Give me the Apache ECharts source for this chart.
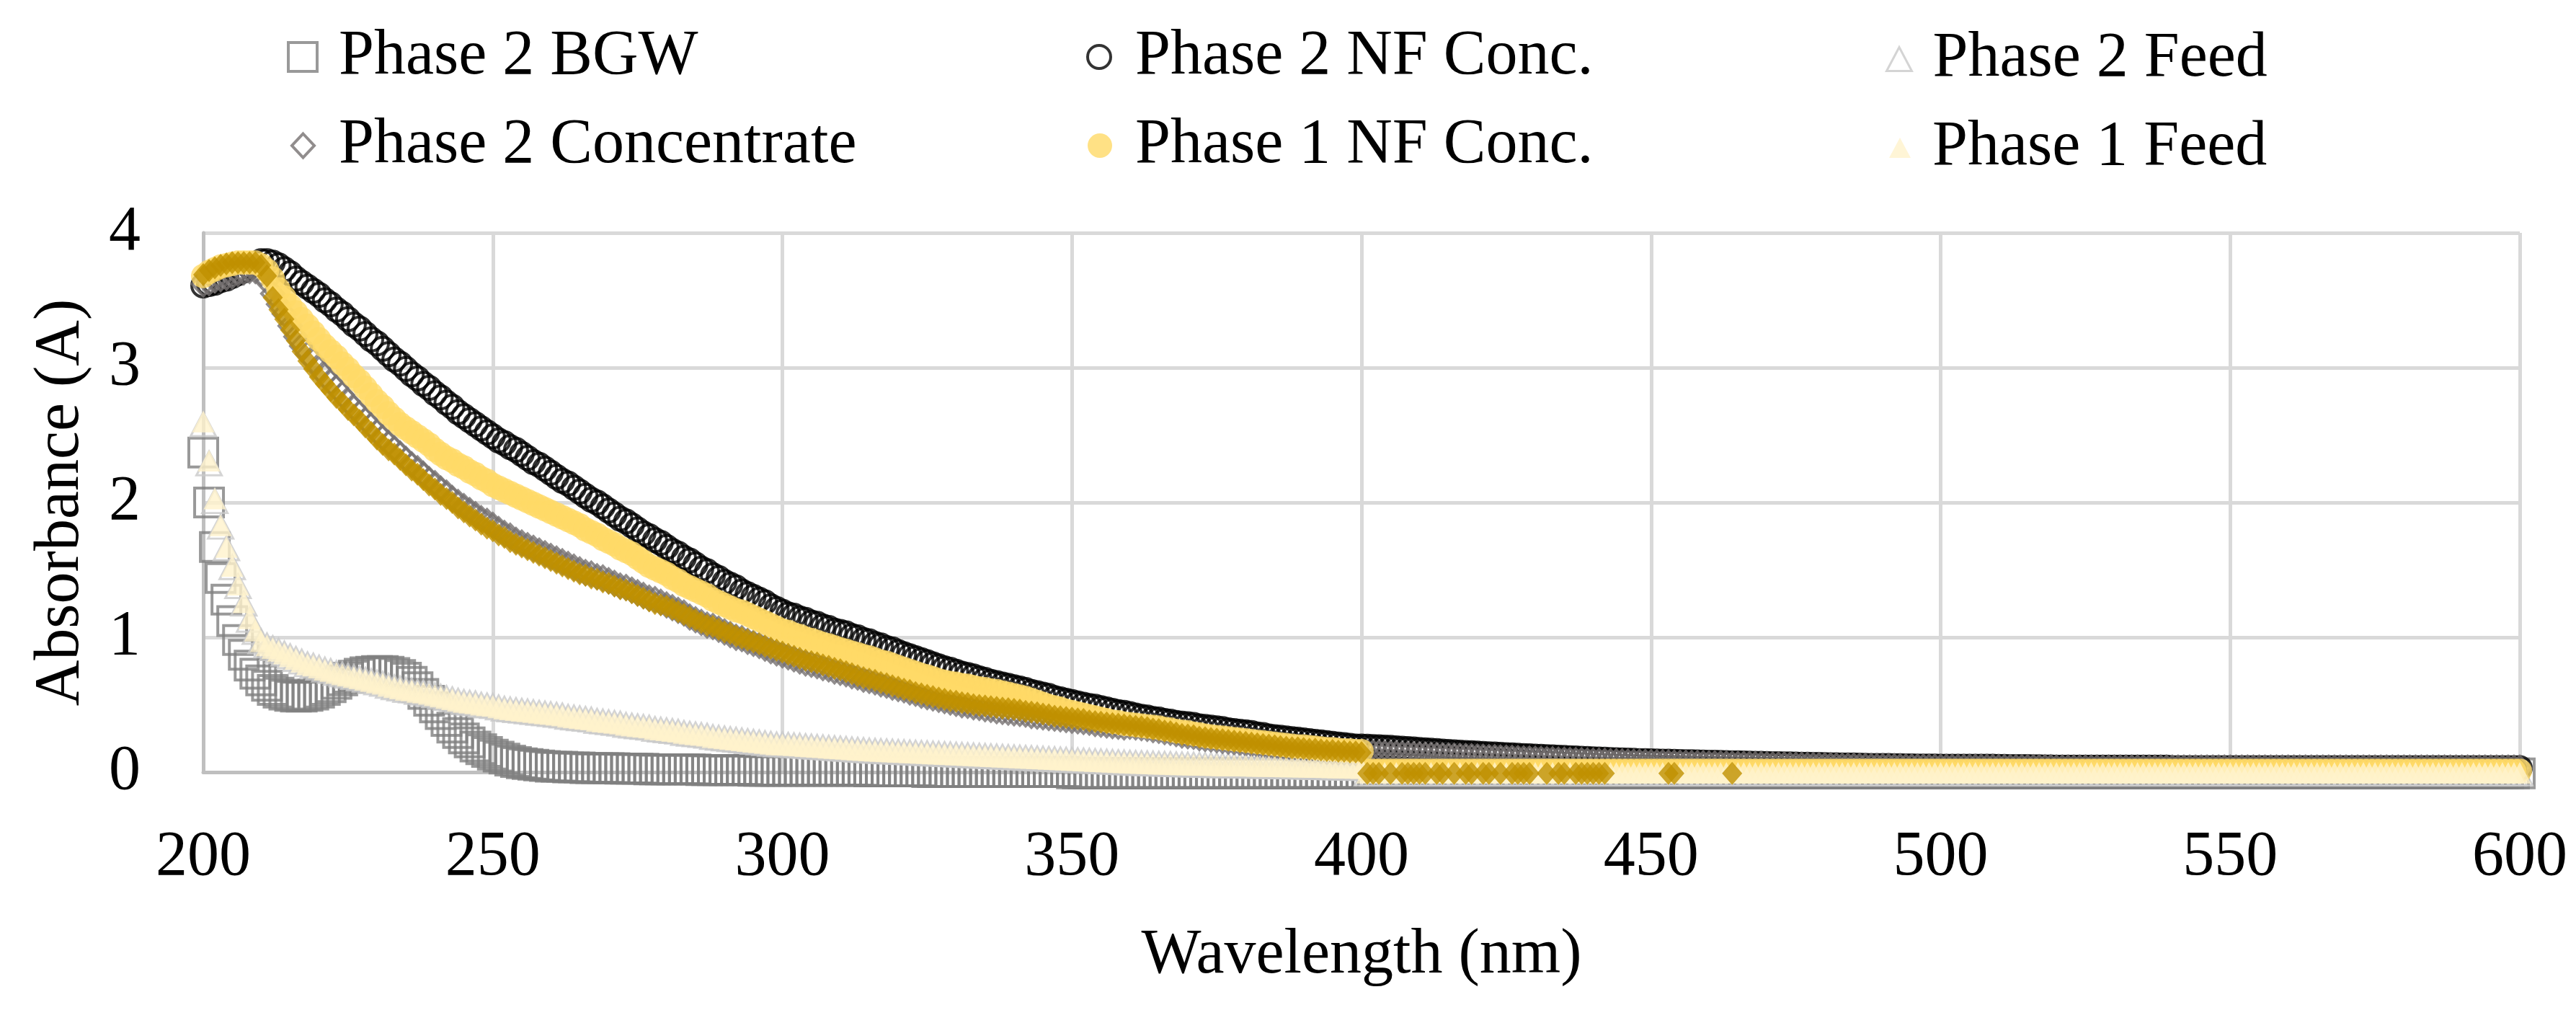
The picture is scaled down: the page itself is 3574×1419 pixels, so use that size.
<!DOCTYPE html>
<html><head><meta charset="utf-8">
<script src="https://cdn.jsdelivr.net/npm/echarts/dist/echarts.min.js"></script>
<style>html,body{margin:0;padding:0;background:#fff}#c{width:3574px;height:1419px}</style>
</head><body><div id="c"></div><script>
// wavelength of the first value in every series (1 nm step)
const startNm = 200;
const xTicks = { min: 200, max: 600, step: 50 };
const yTicks = { min: 0, max: 4, step: 1 };

// Phase 2 BGW (200..600 nm)
const p2Bgw = [
2.37,2.00,1.67,1.44,1.28,1.12,0.98,0.87,0.79,0.73,
0.68,0.64,0.61,0.59,0.575,0.565,0.56,0.56,0.565,0.575,
0.59,0.61,0.63,0.655,0.68,0.70,0.715,0.73,0.74,0.745,
0.75,0.75,0.745,0.735,0.72,0.70,0.67,0.63,0.58,0.53,
0.48,0.43,0.38,0.33,0.29,0.25,0.22,0.19,0.17,0.15,
0.13,0.115,0.10,0.085,0.075,0.065,0.06,0.055,0.05,0.045,
0.04,0.04,0.04,0.035,0.035,0.035,0.03,0.03,0.03,0.03,
0.03,0.03,0.025,0.025,0.025,0.025,0.025,0.02,0.02,0.02,
0.02,0.02,0.02,0.02,0.02,0.02,0.015,0.015,0.015,0.015,
0.015,0.015,0.015,0.015,0.015,0.01,0.01,0.01,0.01,0.01,
0.01,0.01,0.01,0.01,0.01,0.01,0.01,0.01,0.01,0.01,
0.01,0.01,0.01,0.01,0.01,0.005,0.005,0.005,0.005,0.005,
0.005,0.005,0.005,0.005,0.005,0,0,0,0,0,
0,0,0,0,0,0,0,0,0,0,
0,0,0,0,0,0,0,0,0,0,
-0.01,-0.01,-0.01,-0.01,-0.01,-0.01,-0.01,-0.01,-0.01,-0.01,
-0.01,-0.01,-0.01,-0.01,-0.01,-0.01,-0.01,-0.01,-0.01,-0.01,
-0.01,-0.01,-0.01,-0.01,-0.01,-0.01,-0.01,-0.01,-0.01,-0.01,
-0.01,-0.01,-0.01,-0.01,-0.01,-0.01,-0.01,-0.01,-0.01,-0.01,
-0.01,-0.01,-0.01,-0.01,-0.01,-0.01,-0.01,-0.01,-0.01,-0.01,
-0.01,-0.01,-0.01,-0.01,-0.01,-0.01,-0.01,-0.01,-0.01,-0.01,-0.01,-0.01,-0.01,-0.01,-0.01,-0.01,-0.01,-0.01,-0.01,-0.01,
-0.01,-0.01,-0.01,-0.01,-0.01,-0.01,-0.01,-0.01,-0.01,-0.01,-0.01,-0.01,-0.01,-0.01,-0.01,-0.01,-0.01,-0.01,-0.01,-0.01,
-0.01,-0.01,-0.01,-0.01,-0.01,-0.01,-0.01,-0.01,-0.01,-0.01,-0.01,-0.01,-0.01,-0.01,-0.01,-0.01,-0.01,-0.01,-0.01,-0.01,
-0.01,-0.01,-0.01,-0.01,-0.01,-0.01,-0.01,-0.01,-0.01,-0.01,-0.01,-0.01,-0.01,-0.01,-0.01,-0.01,-0.01,-0.01,-0.01,-0.01,
-0.01,-0.01,-0.01,-0.01,-0.01,-0.01,-0.01,-0.01,-0.01,-0.01,-0.01,-0.01,-0.01,-0.01,-0.01,-0.01,-0.01,-0.01,-0.01,-0.01,
-0.01,-0.01,-0.01,-0.01,-0.01,-0.01,-0.01,-0.01,-0.01,-0.01,-0.01,-0.01,-0.01,-0.01,-0.01,-0.01,-0.01,-0.01,-0.01,-0.01,
-0.01,-0.01,-0.01,-0.01,-0.01,-0.01,-0.01,-0.01,-0.01,-0.01,-0.01,-0.01,-0.01,-0.01,-0.01,-0.01,-0.01,-0.01,-0.01,-0.01,
-0.01,-0.01,-0.01,-0.01,-0.01,-0.01,-0.01,-0.01,-0.01,-0.01,-0.01,-0.01,-0.01,-0.01,-0.01,-0.01,-0.01,-0.01,-0.01,-0.01,
-0.01,-0.01,-0.01,-0.01,-0.01,-0.01,-0.01,-0.01,-0.01,-0.01,-0.01,-0.01,-0.01,-0.01,-0.01,-0.01,-0.01,-0.01,-0.01,-0.01,
-0.01,-0.01,-0.01,-0.01,-0.01,-0.01,-0.01,-0.01,-0.01,-0.01,-0.01,-0.01,-0.01,-0.01,-0.01,-0.01,-0.01,-0.01,-0.01,-0.01,
-0.01];

// Phase 2 NF Conc. (200..600 nm)
const p2NfConc = [
3.61,3.62,3.63,3.65,3.66,3.68,3.70,3.72,3.75,3.77,
3.79,3.79,3.78,3.76,3.73,3.70,3.66,3.63,3.60,3.57,
3.54,3.50,3.47,3.43,3.40,3.36,3.32,3.29,3.25,3.21,
3.18,3.14,3.10,3.06,3.03,2.99,2.95,2.92,2.88,2.85,
2.81,2.78,2.74,2.71,2.67,2.64,2.61,2.58,2.55,2.52,
2.49,2.46,2.44,2.41,2.39,2.36,2.33,2.30,2.28,2.25,
2.22,2.19,2.16,2.14,2.11,2.08,2.05,2.02,2.00,1.97,
1.94,1.91,1.88,1.86,1.83,1.80,1.77,1.75,1.72,1.70,
1.67,1.64,1.62,1.59,1.57,1.54,1.51,1.49,1.46,1.44,
1.41,1.39,1.37,1.34,1.32,1.30,1.28,1.26,1.23,1.21,
1.19,1.17,1.16,1.14,1.13,1.11,1.10,1.08,1.07,1.05,
1.04,1.03,1.01,1.00,0.98,0.97,0.95,0.94,0.92,0.91,
0.89,0.875,0.86,0.845,0.83,0.815,0.80,0.785,0.77,0.76,
0.745,0.73,0.72,0.71,0.695,0.685,0.67,0.66,0.65,0.64,
0.63,0.62,0.61,0.595,0.585,0.575,0.565,0.55,0.54,0.53,
0.52,0.51,0.50,0.49,0.485,0.475,0.465,0.455,0.445,0.44,
0.43,0.42,0.41,0.405,0.395,0.39,0.38,0.375,0.365,0.36,
0.355,0.35,0.34,0.335,0.33,0.325,0.32,0.31,0.305,0.30,
0.295,0.29,0.28,0.275,0.265,0.26,0.255,0.25,0.245,0.24,
0.235,0.23,0.225,0.22,0.215,0.21,0.205,0.20,0.195,0.19,
0.19,0.188,0.186,0.184,0.182,0.18,0.177,0.174,0.171,0.168,
0.165,0.162,0.159,0.156,0.153,0.15,0.147,0.145,0.142,0.14,
0.138,0.135,0.133,0.131,0.128,0.126,0.124,0.121,0.119,0.117,
0.115,0.113,0.111,0.109,0.107,0.105,0.103,0.101,0.099,0.097,
0.095,0.093,0.092,0.09,0.088,0.087,0.085,0.084,0.082,0.081,
0.08,0.079,0.078,0.077,0.076,0.075,0.074,0.073,0.072,0.071,
0.07,0.069,0.068,0.067,0.066,0.065,0.064,0.063,0.062,0.061,
0.06,0.059,0.059,0.058,0.057,0.056,0.055,0.055,0.054,0.053,
0.052,0.051,0.051,0.05,0.049,0.049,0.048,0.047,0.046,0.045,
0.045,0.045,0.044,0.044,0.043,0.043,0.042,0.042,0.041,0.041,
0.04,0.04,0.04,0.04,0.04,0.04,0.04,0.04,0.04,0.04,
0.039,0.039,0.038,0.038,0.037,0.037,0.036,0.036,0.035,0.035,
0.033,0.033,0.033,0.033,0.033,0.033,0.033,0.033,0.033,0.033,
0.033,0.033,0.033,0.033,0.033,0.033,0.033,0.033,0.033,0.033,
0.03,0.03,0.03,0.03,0.03,0.03,0.03,0.03,0.03,0.03,
0.03,0.03,0.03,0.03,0.03,0.03,0.03,0.03,0.03,0.03,
0.03,0.03,0.03,0.03,0.03,0.03,0.03,0.03,0.03,0.03,
0.03,0.03,0.03,0.03,0.03,0.03,0.03,0.03,0.03,0.03,
0.03,0.03,0.03,0.03,0.03,0.03,0.03,0.03,0.03,0.03,
0.03,0.03,0.03,0.03,0.03,0.03,0.03,0.03,0.03,0.03,
0.03];

// Phase 2 Feed (200..600 nm)
const p2Feed = [
2.58,2.29,2.01,1.82,1.66,1.52,1.38,1.25,1.13,1.04,
0.97,0.94,0.92,0.90,0.88,0.86,0.84,0.82,0.80,0.79,
0.775,0.76,0.75,0.735,0.725,0.715,0.705,0.695,0.685,0.675,
0.665,0.655,0.64,0.63,0.62,0.61,0.605,0.595,0.59,0.58,
0.57,0.56,0.55,0.54,0.53,0.52,0.515,0.51,0.50,0.495,
0.49,0.48,0.47,0.465,0.46,0.455,0.45,0.445,0.44,0.435,
0.43,0.425,0.42,0.41,0.405,0.40,0.395,0.39,0.38,0.375,
0.37,0.365,0.36,0.35,0.345,0.34,0.335,0.33,0.32,0.315,
0.31,0.305,0.30,0.29,0.285,0.28,0.275,0.27,0.26,0.255,
0.25,0.245,0.24,0.235,0.23,0.225,0.22,0.215,0.21,0.205,
0.205,0.202,0.199,0.196,0.193,0.19,0.187,0.184,0.181,0.178,
0.175,0.172,0.169,0.166,0.163,0.16,0.158,0.156,0.154,0.152,
0.15,0.148,0.146,0.144,0.142,0.14,0.138,0.136,0.134,0.132,
0.13,0.128,0.126,0.124,0.122,0.12,0.118,0.116,0.114,0.112,
0.11,0.108,0.106,0.104,0.102,0.10,0.098,0.096,0.094,0.092,
0.09,0.088,0.086,0.084,0.082,0.08,0.078,0.076,0.074,0.072,
0.07,0.068,0.067,0.065,0.064,0.062,0.061,0.06,0.058,0.057,
0.056,0.055,0.054,0.053,0.052,0.051,0.05,0.05,0.049,0.048,
0.048,0.047,0.046,0.045,0.045,0.044,0.043,0.042,0.042,0.041,
0.04,0.039,0.038,0.037,0.036,0.035,0.034,0.033,0.032,0.031,
0.03,-0.01,-0.01,-0.01,-0.01,-0.01,-0.01,-0.01,-0.01,-0.01,
-0.01,-0.01,-0.01,-0.01,-0.01,-0.01,-0.01,-0.01,-0.01,-0.01,-0.01,-0.01,-0.01,-0.01,-0.01,-0.01,-0.01,-0.01,-0.01,-0.01,
-0.01,-0.01,-0.01,-0.01,-0.01,-0.01,-0.01,-0.01,-0.01,-0.01,-0.01,-0.01,-0.01,-0.01,-0.01,-0.01,-0.01,-0.01,-0.01,-0.01,
-0.01,-0.01,-0.01,-0.01,-0.01,-0.01,-0.01,-0.01,-0.01,-0.01,-0.01,-0.01,-0.01,-0.01,-0.01,-0.01,-0.01,-0.01,-0.01,-0.01,
-0.01,-0.01,-0.01,-0.01,-0.01,-0.01,-0.01,-0.01,-0.01,-0.01,-0.01,-0.01,-0.01,-0.01,-0.01,-0.01,-0.01,-0.01,-0.01,-0.01,
-0.01,-0.01,-0.01,-0.01,-0.01,-0.01,-0.01,-0.01,-0.01,-0.01,-0.01,-0.01,-0.01,-0.01,-0.01,-0.01,-0.01,-0.01,-0.01,-0.01,
-0.01,-0.01,-0.01,-0.01,-0.01,-0.01,-0.01,-0.01,-0.01,-0.01,-0.01,-0.01,-0.01,-0.01,-0.01,-0.01,-0.01,-0.01,-0.01,-0.01,
-0.01,-0.01,-0.01,-0.01,-0.01,-0.01,-0.01,-0.01,-0.01,-0.01,-0.01,-0.01,-0.01,-0.01,-0.01,-0.01,-0.01,-0.01,-0.01,-0.01,
-0.01,-0.01,-0.01,-0.01,-0.01,-0.01,-0.01,-0.01,-0.01,-0.01,-0.01,-0.01,-0.01,-0.01,-0.01,-0.01,-0.01,-0.01,-0.01,-0.01,
-0.01,-0.01,-0.01,-0.01,-0.01,-0.01,-0.01,-0.01,-0.01,-0.01,-0.01,-0.01,-0.01,-0.01,-0.01,-0.01,-0.01,-0.01,-0.01,-0.01,
-0.01,-0.01,-0.01,-0.01,-0.01,-0.01,-0.01,-0.01,-0.01,-0.01,
-0.01];

// Phase 2 Concentrate (200..600 nm)
const p2Conc = [
3.62,3.63,3.65,3.66,3.67,3.68,3.70,3.71,3.72,3.72,
3.70,3.64,3.55,3.47,3.40,3.31,3.23,3.16,3.10,3.05,
2.99,2.94,2.89,2.85,2.80,2.75,2.70,2.66,2.61,2.57,
2.52,2.48,2.44,2.40,2.36,2.32,2.28,2.25,2.21,2.17,
2.14,2.10,2.07,2.03,2.00,1.97,1.94,1.91,1.88,1.86,
1.83,1.80,1.77,1.75,1.72,1.70,1.68,1.66,1.64,1.62,
1.60,1.58,1.56,1.54,1.52,1.50,1.48,1.47,1.45,1.44,
1.42,1.40,1.38,1.37,1.35,1.33,1.31,1.29,1.28,1.26,
1.24,1.22,1.20,1.18,1.15,1.13,1.11,1.09,1.08,1.06,
1.04,1.02,1.00,0.99,0.97,0.955,0.94,0.92,0.90,0.885,
0.87,0.855,0.84,0.825,0.81,0.80,0.79,0.775,0.765,0.75,
0.74,0.73,0.715,0.705,0.69,0.68,0.67,0.655,0.645,0.63,
0.62,0.61,0.595,0.585,0.57,0.56,0.55,0.54,0.53,0.52,
0.51,0.50,0.495,0.485,0.48,0.47,0.465,0.455,0.45,0.445,
0.44,0.435,0.43,0.42,0.415,0.41,0.405,0.40,0.395,0.39,
0.385,0.38,0.375,0.37,0.36,0.355,0.35,0.345,0.34,0.335,
0.34,0.335,0.33,0.325,0.315,0.31,0.30,0.295,0.285,0.275,
0.27,0.265,0.255,0.25,0.245,0.24,0.235,0.23,0.225,0.22,
0.215,0.21,0.205,0.20,0.195,0.19,0.185,0.18,0.175,0.175,
0.17,0.165,0.165,0.16,0.155,0.155,0.15,0.15,0.145,0.145,
0.145,0.143,0.141,0.139,0.137,0.135,0.134,0.132,0.131,0.129,
0.128,0.126,0.125,0.123,0.121,0.12,0.118,0.117,0.115,0.114,
0.112,0.11,0.108,0.107,0.105,0.103,0.102,0.10,0.098,0.097,
0.095,0.094,0.092,0.091,0.089,0.088,0.086,0.085,0.084,0.082,
0.081,0.08,0.079,0.077,0.076,0.075,0.074,0.073,0.072,0.071,
0.07,0.069,0.068,0.067,0.066,0.065,0.064,0.063,0.063,0.062,
0.061,0.06,0.06,0.059,0.058,0.057,0.057,0.056,0.055,0.055,
0.054,0.053,0.053,0.052,0.051,0.05,0.05,0.049,0.049,0.048,
0.047,0.047,0.046,0.045,0.045,0.044,0.043,0.042,0.041,0.04,
0.04,0.04,0.039,0.039,0.038,0.038,0.037,0.037,0.036,0.036,
0.035,0.035,0.035,0.035,0.035,0.035,0.035,0.035,0.035,0.035,
0.033,0.033,0.033,0.033,0.033,0.033,0.033,0.033,0.033,0.033,
0.03,0.03,0.03,0.03,0.03,0.03,0.03,0.03,0.03,0.03,
0.03,0.03,0.03,0.03,0.03,0.03,0.03,0.03,0.03,0.03,
0.03,0.03,0.03,0.03,0.03,0.03,0.03,0.03,0.03,0.03,
0.03,0.03,0.03,0.03,0.03,0.03,0.03,0.03,0.03,0.03,
0.03,0.03,0.03,0.03,0.03,0.03,0.03,0.03,0.03,0.03,
0.03,0.03,0.03,0.03,0.03,0.03,0.03,0.03,0.03,0.03,
0.03,0.03,0.03,0.03,0.03,0.03,0.03,0.03,0.03,0.03,
0.03,0.03,0.03,0.03,0.03,0.03,0.03,0.03,0.03,0.03,
0.03];

// Phase 1 NF Conc. (200..600 nm)
const p1NfConc = [
3.68,3.71,3.73,3.75,3.76,3.77,3.78,3.78,3.78,3.78,
3.76,3.72,3.66,3.58,3.52,3.46,3.41,3.36,3.31,3.26,
3.21,3.16,3.12,3.08,3.03,2.99,2.94,2.90,2.85,2.80,
2.75,2.71,2.66,2.62,2.58,2.55,2.52,2.49,2.46,2.43,
2.39,2.36,2.33,2.31,2.28,2.26,2.23,2.21,2.18,2.16,
2.13,2.11,2.09,2.07,2.05,2.03,2.01,1.99,1.97,1.95,
1.93,1.91,1.89,1.87,1.85,1.83,1.80,1.78,1.76,1.73,
1.71,1.69,1.66,1.64,1.62,1.59,1.56,1.53,1.51,1.49,
1.47,1.44,1.42,1.39,1.37,1.35,1.33,1.31,1.28,1.26,
1.24,1.22,1.20,1.19,1.17,1.15,1.13,1.11,1.09,1.07,
1.05,1.04,1.02,1.01,0.99,0.98,0.965,0.95,0.94,0.925,
0.91,0.90,0.885,0.875,0.86,0.85,0.835,0.82,0.81,0.795,
0.78,0.765,0.75,0.735,0.72,0.71,0.695,0.68,0.67,0.66,
0.655,0.645,0.64,0.63,0.62,0.615,0.605,0.60,0.59,0.58,
0.57,0.56,0.55,0.535,0.52,0.505,0.49,0.48,0.47,0.455,
0.445,0.435,0.425,0.415,0.405,0.395,0.385,0.375,0.37,0.36,
0.355,0.35,0.345,0.34,0.335,0.33,0.32,0.315,0.305,0.30,
0.295,0.285,0.28,0.27,0.265,0.26,0.255,0.25,0.245,0.24,
0.235,0.23,0.225,0.22,0.215,0.21,0.205,0.20,0.195,0.19,
0.19,0.185,0.18,0.175,0.17,0.17,0.165,0.16,0.16,0.155,
0.155,0.01,0.01,0.01,0.01,0.01,0.01,0.01,0.01,0.01,
0.01,0.01,0.01,0.01,0.01,0.01,0.01,0.01,0.01,0.01,0.01,0.01,0.01,0.01,0.01,0.01,0.01,0.01,0.01,0.01,
0.01,0.01,0.01,0.01,0.01,0.01,0.01,0.01,0.01,0.01,0.01,0.01,0.01,0.01,0.01,0.01,0.01,0.01,0.01,0.01,
0.01,0.01,0.01,0.01,0.01,0.01,0.01,0.01,0.01,0.01,0.01,0.01,0.01,0.01,0.01,0.01,0.01,0.01,0.01,0.01,
0.01,0.01,0.01,0.01,0.01,0.01,0.01,0.01,0.01,0.01,0.01,0.01,0.01,0.01,0.01,0.01,0.01,0.01,0.01,0.01,
0.01,0.01,0.01,0.01,0.01,0.01,0.01,0.01,0.01,0.01,0.01,0.01,0.01,0.01,0.01,0.01,0.01,0.01,0.01,0.01,
0.01,0.01,0.01,0.01,0.01,0.01,0.01,0.01,0.01,0.01,0.01,0.01,0.01,0.01,0.01,0.01,0.01,0.01,0.01,0.01,
0.01,0.01,0.01,0.01,0.01,0.01,0.01,0.01,0.01,0.01,0.01,0.01,0.01,0.01,0.01,0.01,0.01,0.01,0.01,0.01,
0.01,0.01,0.01,0.01,0.01,0.01,0.01,0.01,0.01,0.01,0.01,0.01,0.01,0.01,0.01,0.01,0.01,0.01,0.01,0.01,
0.01,0.01,0.01,0.01,0.01,0.01,0.01,0.01,0.01,0.01,0.01,0.01,0.01,0.01,0.01,0.01,0.01,0.01,0.01,0.01,
0.01,0.01,0.01,0.01,0.01,0.01,0.01,0.01,0.01,0.01,
0.01];

// Phase 1 Feed (200..600 nm)
const p1Feed = [
2.60,2.31,2.03,1.83,1.67,1.53,1.39,1.26,1.14,1.05,
0.97,0.94,0.92,0.90,0.88,0.86,0.84,0.82,0.80,0.79,
0.775,0.76,0.75,0.735,0.725,0.715,0.705,0.695,0.685,0.675,
0.665,0.655,0.64,0.63,0.62,0.61,0.605,0.595,0.59,0.58,
0.57,0.56,0.55,0.54,0.53,0.52,0.515,0.51,0.50,0.495,
0.49,0.48,0.47,0.465,0.46,0.455,0.45,0.445,0.44,0.435,
0.43,0.425,0.42,0.41,0.405,0.40,0.395,0.39,0.38,0.375,
0.37,0.365,0.36,0.35,0.345,0.34,0.335,0.33,0.32,0.315,
0.31,0.305,0.30,0.29,0.285,0.28,0.275,0.27,0.26,0.255,
0.25,0.245,0.24,0.235,0.23,0.225,0.22,0.215,0.21,0.205,
0.205,0.202,0.199,0.196,0.193,0.19,0.187,0.184,0.181,0.178,
0.175,0.172,0.169,0.166,0.163,0.16,0.158,0.156,0.154,0.152,
0.15,0.148,0.146,0.144,0.142,0.14,0.138,0.136,0.134,0.132,
0.13,0.128,0.126,0.124,0.122,0.12,0.118,0.116,0.114,0.112,
0.11,0.108,0.106,0.104,0.102,0.10,0.098,0.096,0.094,0.092,
0.09,0.088,0.086,0.084,0.082,0.08,0.078,0.076,0.074,0.072,
0.07,0.068,0.067,0.065,0.064,0.062,0.061,0.06,0.058,0.057,
0.056,0.055,0.054,0.053,0.052,0.051,0.05,0.05,0.049,0.048,
0.048,0.047,0.046,0.045,0.045,0.044,0.043,0.042,0.042,0.041,
0.04,0.039,0.038,0.037,0.036,0.035,0.034,0.033,0.032,0.031,
0.03,-0.005,-0.005,-0.005,-0.005,-0.005,-0.005,-0.005,-0.005,-0.005,
-0.005,-0.005,-0.005,-0.005,-0.005,-0.005,-0.005,-0.005,-0.005,-0.005,-0.005,-0.005,-0.005,-0.005,-0.005,-0.005,-0.005,-0.005,-0.005,-0.005,
-0.005,-0.005,-0.005,-0.005,-0.005,-0.005,-0.005,-0.005,-0.005,-0.005,-0.005,-0.005,-0.005,-0.005,-0.005,-0.005,-0.005,-0.005,-0.005,-0.005,
-0.005,-0.005,-0.005,-0.005,-0.005,-0.005,-0.005,-0.005,-0.005,-0.005,-0.005,-0.005,-0.005,-0.005,-0.005,-0.005,-0.005,-0.005,-0.005,-0.005,
-0.005,-0.005,-0.005,-0.005,-0.005,-0.005,-0.005,-0.005,-0.005,-0.005,-0.005,-0.005,-0.005,-0.005,-0.005,-0.005,-0.005,-0.005,-0.005,-0.005,
-0.005,-0.005,-0.005,-0.005,-0.005,-0.005,-0.005,-0.005,-0.005,-0.005,-0.005,-0.005,-0.005,-0.005,-0.005,-0.005,-0.005,-0.005,-0.005,-0.005,
-0.005,-0.005,-0.005,-0.005,-0.005,-0.005,-0.005,-0.005,-0.005,-0.005,-0.005,-0.005,-0.005,-0.005,-0.005,-0.005,-0.005,-0.005,-0.005,-0.005,
-0.005,-0.005,-0.005,-0.005,-0.005,-0.005,-0.005,-0.005,-0.005,-0.005,-0.005,-0.005,-0.005,-0.005,-0.005,-0.005,-0.005,-0.005,-0.005,-0.005,
-0.005,-0.005,-0.005,-0.005,-0.005,-0.005,-0.005,-0.005,-0.005,-0.005,-0.005,-0.005,-0.005,-0.005,-0.005,-0.005,-0.005,-0.005,-0.005,-0.005,
-0.005,-0.005,-0.005,-0.005,-0.005,-0.005,-0.005,-0.005,-0.005,-0.005,-0.005,-0.005,-0.005,-0.005,-0.005,-0.005,-0.005,-0.005,-0.005,-0.005,
-0.005,-0.005,-0.005,-0.005,-0.005,-0.005,-0.005,-0.005,-0.005,-0.005,
-0.005];

// Phase 1 Concentrate (dark gold, not in legend): 200..400 nm
const p1Conc = [
3.69,3.72,3.74,3.76,3.77,3.78,3.78,3.78,3.78,3.78,
3.76,3.68,3.52,3.43,3.36,3.28,3.20,3.12,3.05,2.99,
2.93,2.88,2.83,2.78,2.74,2.69,2.65,2.61,2.56,2.52,
2.47,2.43,2.39,2.36,2.32,2.28,2.24,2.21,2.17,2.13,
2.10,2.06,2.03,2.00,1.96,1.93,1.90,1.87,1.84,1.81,
1.79,1.76,1.74,1.71,1.69,1.67,1.65,1.63,1.61,1.59,
1.57,1.55,1.53,1.51,1.49,1.47,1.46,1.44,1.43,1.41,
1.40,1.38,1.36,1.35,1.33,1.31,1.29,1.27,1.25,1.24,
1.23,1.21,1.19,1.17,1.15,1.13,1.11,1.09,1.08,1.06,
1.04,1.03,1.01,0.995,0.98,0.965,0.95,0.935,0.92,0.905,
0.89,0.875,0.86,0.845,0.83,0.82,0.81,0.795,0.785,0.77,
0.76,0.745,0.73,0.715,0.70,0.69,0.68,0.665,0.655,0.64,
0.63,0.615,0.605,0.59,0.58,0.57,0.56,0.55,0.54,0.53,
0.525,0.515,0.51,0.50,0.495,0.49,0.485,0.48,0.475,0.47,
0.465,0.46,0.45,0.445,0.44,0.43,0.425,0.415,0.41,0.405,
0.40,0.395,0.39,0.38,0.375,0.37,0.365,0.36,0.355,0.35,
0.345,0.34,0.335,0.33,0.32,0.315,0.305,0.30,0.29,0.28,
0.275,0.27,0.26,0.255,0.25,0.245,0.24,0.235,0.23,0.225,
0.22,0.215,0.21,0.205,0.20,0.195,0.19,0.185,0.18,0.18,
0.175,0.17,0.17,0.165,0.16,0.16,0.155,0.155,0.15,0.15,
0.145];
// scattered Phase 1 Concentrate readings beyond 400 nm
const p1ConcTailNm = [401,402,403,405,407,408,409,410,411,413,414,416,418,419,421,422,424,426,427,428,429,432,434,435,437,438,439,440,441,442,453,454,464];
const p1ConcTailVal = [-0.01,-0.01,-0.01,-0.01,-0.01,-0.01,-0.01,-0.01,-0.01,-0.01,-0.01,-0.01,-0.01,-0.01,-0.01,-0.01,-0.01,-0.01,-0.01,-0.01,-0.01,-0.01,-0.01,-0.01,-0.01,-0.01,-0.01,-0.01,-0.01,-0.01,-0.01,-0.01,-0.01];

const FONT = 'Liberation Serif';
const FS = 88;
function toPairs(vals){ return vals.map((v,i)=>[startNm+i, v]); }
const hollow = 'rgba(0,0,0,0)';

const p1ConcData = toPairs(p1Conc).concat(p1ConcTailNm.map((w,i)=>[w, p1ConcTailVal[i]]));

function scatter(name, data, symbol, size, itemStyle){
  return { name, type:'scatter', data, symbol, symbolSize:size, itemStyle,
    clip:false, silent:true, animation:false, emphasis:{disabled:true}, large:false };
}

const series = [
  scatter('Phase 2 BGW', toPairs(p2Bgw), 'rect', 40, {color:hollow, borderColor:'#7F7F7F', borderWidth:4}),
  scatter('Phase 2 NF Conc.', toPairs(p2NfConc), 'circle', 32, {color:hollow, borderColor:'#000000', borderWidth:4}),
  scatter('Phase 2 Feed', toPairs(p2Feed), 'triangle', [35,33], {color:hollow, borderColor:'#C9C9C9', borderWidth:3}),
  scatter('Phase 2 Concentrate', toPairs(p2Conc), 'diamond', [31,33], {color:hollow, borderColor:'#767171', borderWidth:4}),
  scatter('Phase 1 NF Conc.', toPairs(p1NfConc), 'circle', 34, {color:'#FFD966'}),
  scatter('Phase 1 Feed', toPairs(p1Feed), 'triangle', [31,30], {color:'#FFF2CC'}),
  scatter('Phase 1 Concentrate', p1ConcData, 'diamond', [28,32], {color:'#BF9000'})
];

function leg(name, left, top, w, h, padL, bw){
  const l = { data:[name], left, top, itemWidth:w, itemHeight:h, padding:0, selectedMode:false,
    textStyle:{fontFamily:FONT, fontSize:FS, color:'#000', lineHeight:FS, padding:[0,0,0,padL]} };
  if (bw != null) l.itemStyle = {borderWidth:bw};
  return l;
}

const axisText = {fontFamily:FONT, fontSize:FS, color:'#000'};

const option = {
  animation:false,
  backgroundColor:'#ffffff',
  grid:{left:282, right:78, top:323, bottom:348, containLabel:false, outerBoundsMode:'none'},
  legend:[
    leg('Phase 2 BGW', 398, 35, 40, 40, 25, 4),
    leg('Phase 2 NF Conc.', 1507, 35, 32, 32, 29, 4),
    leg('Phase 2 Feed', 2616, 38, 35, 33, 24, 3),
    leg('Phase 2 Concentrate', 403, 158, 31, 33, 29, 4),
    leg('Phase 1 NF Conc.', 1509, 158, 34, 34, 27),
    leg('Phase 1 Feed', 2621, 161, 30, 28, 25)
  ],
  xAxis:{type:'value', min:xTicks.min, max:xTicks.max, interval:xTicks.step,
    name:'Wavelength (nm)', nameLocation:'middle', nameGap:211, nameTextStyle:axisText,
    axisLine:{show:true, onZero:false, lineStyle:{color:'#BFBFBF', width:5}},
    axisTick:{show:false},
    axisLabel:{...axisText, margin:75},
    splitLine:{show:true, lineStyle:{color:'#D9D9D9', width:5}}},
  yAxis:{type:'value', min:yTicks.min, max:yTicks.max, interval:yTicks.step,
    name:'Absorbance (A)', nameLocation:'middle', nameGap:153, nameTextStyle:axisText,
    axisLine:{show:true, lineStyle:{color:'#BFBFBF', width:5}},
    axisTick:{show:false},
    axisLabel:{...axisText, margin:87},
    splitLine:{show:true, lineStyle:{color:'#D9D9D9', width:5}}},
  series
};

const chart = echarts.init(document.getElementById('c'), null, {renderer:'canvas', width:3574, height:1419});
chart.setOption(option);

// length sanity check (debug)
const bad = [];
[['p2Bgw',p2Bgw],['p2NfConc',p2NfConc],['p2Feed',p2Feed],['p2Conc',p2Conc],['p1NfConc',p1NfConc],['p1Feed',p1Feed]].forEach(([k,v])=>{ if(v.length!==401) bad.push(k+':'+v.length); });
if (p1Conc.length!==201) bad.push('p1Conc:'+p1Conc.length);
if (bad.length) chart.setOption({graphic:[{type:'text', left:1500, top:600, style:{text:'LEN '+bad.join(' '), fontSize:60, fill:'red'}}]});
</script></body></html>
